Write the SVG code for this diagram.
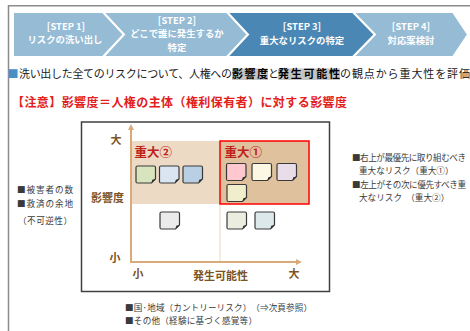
<svg xmlns="http://www.w3.org/2000/svg" xmlns:xlink="http://www.w3.org/1999/xlink" width="470" height="331" viewBox="0 0 470 331">
<style>
text{font-family:"Noto Sans CJK JP","Noto Sans",sans-serif;}
.step{fill:#95bbd5;stroke:#ffffff;stroke-width:2;}
.step.on{fill:#4a87b5;}
.st{font-size:9.4px;fill:#ffffff;font-weight:bold;text-anchor:middle;}
.ax{font-size:11px;fill:#7b5325;font-weight:bold;text-anchor:middle;}
.big{font-size:12.5px;fill:#c0201a;font-weight:bold;}
.note{stroke:#3a3a3a;stroke-width:1.2;}
.fold{fill:#2a2a2a;}
.side{font-size:8.6px;fill:#3a3a3a;}
.axis{stroke:#d8aa7c;stroke-width:2;fill:none;}
</style>
<defs>
<marker id="ah" markerUnits="userSpaceOnUse" markerWidth="8" markerHeight="8" refX="1" refY="4" orient="auto">
<path d="M0,1 L6,4 L0,7 Z" fill="#d8aa7c"/>
</marker>
<path id="nt" d="M1.5,0 H18 Q19.5,0 19.5,1.5 V13 L15.5,17 H1.5 Q0,17 0,15.5 V1.5 Q0,0 1.5,0 Z"/>
<path id="fd" d="M15.5,17 L19.5,13 L16.3,13.8 Z"/>
</defs>

<rect width="470" height="331" fill="#ffffff"/>
<g id="frame">
<path d="M8.5,331 V5.8 H470" fill="none" stroke="#8c8c8c" stroke-width="1.5"/>
</g>

<g id="step1">
<polygon class="step" points="13,12 103,12 124,34.5 103,57 13,57"/>
<text class="st" x="66" y="29.5">[STEP 1]</text>
<text class="st" x="65" y="42.5">リスクの洗い出し</text>
</g>
<g id="step2">
<polygon class="step" points="103,12 227,12 248,34.5 227,57 103,57 124,34.5"/>
<text class="st" x="177" y="24">[STEP 2]</text>
<text class="st" x="177" y="37">どこで誰に発生するか</text>
<text class="st" x="177" y="50.5">特定</text>
</g>
<g id="step3">
<polygon class="step on" points="227,12 353,12 375,34.5 353,57 227,57 248,34.5"/>
<text class="st" x="302" y="29.5">[STEP 3]</text>
<text class="st" x="302" y="43.5">重大なリスクの特定</text>
</g>
<g id="step4">
<polygon class="step" points="353,12 453,12 468,34.5 453,57 353,57 375,34.5"/>
<text class="st" x="411" y="29.5">[STEP 4]</text>
<text class="st" x="411" y="43.5">対応案検討</text>
</g>

<g id="lead">
<text x="7.5" y="78" font-size="11" fill="#4a8fc2">■</text>
<rect x="232" y="68.5" width="36" height="11.5" fill="#c4c4c4"/>
<rect x="278" y="68.5" width="62" height="11.5" fill="#c4c4c4"/>
<text x="19" y="78" font-size="11" fill="#1a1a1a" textLength="213">洗い出した全てのリスクについて、人権への</text>
<text x="232" y="78" font-size="11" fill="#000" font-weight="bold" textLength="36">影響度</text>
<text x="268" y="78" font-size="11" fill="#1a1a1a" textLength="10">と</text>
<text x="278" y="78" font-size="11" fill="#000" font-weight="bold" textLength="62">発生可能性</text>
<text x="340" y="78" font-size="11" fill="#1a1a1a" textLength="130">の観点から重大性を評価</text>
</g>
<g id="note-caution">
<text x="12" y="106.5" font-size="12" fill="#e3201b" font-weight="bold" textLength="335">【注意】影響度＝人権の主体（権利保有者）に対する影響度</text>
</g>

<g id="chart">
<rect x="81.5" y="122" width="248" height="169.5" fill="#ffffff" stroke="#404040" stroke-width="1.5"/>
<rect x="131" y="141" width="89" height="63" fill="#eddac4"/>
<line x1="220" y1="204" x2="220" y2="262" stroke="#e6cfb3" stroke-width="0.8"/>
</g>
<g id="zone1">
<rect x="220" y="141" width="89" height="63" fill="#dfc19e" stroke="#ff0000" stroke-width="1.5"/>
<text class="big" x="224.5" y="156.5">重大①</text>
</g>
<g id="zone2">
<text class="big" x="134.5" y="156.5">重大②</text>
</g>

<g id="axis-labels">
<text class="ax" x="116" y="144">大</text>
<text class="ax" x="107.5" y="202">影響度</text>
<text class="ax" x="115" y="262">小</text>
<text class="ax" x="138" y="277.5">小</text>
<text class="ax" x="220.5" y="280">発生可能性</text>
<text class="ax" x="294" y="278">大</text>
</g>

<g id="connectors">
<line class="axis" x1="131" y1="263" x2="131" y2="129" marker-end="url(#ah)"/>
<line class="axis" x1="130" y1="262" x2="297" y2="262" marker-end="url(#ah)"/>
</g>

<g id="notes">
<g id="n1" transform="translate(136,166)"><use xlink:href="#nt" class="note" fill="#d7e4bd"/><use xlink:href="#fd" class="fold"/></g>
<g id="n2" transform="translate(159.5,166)"><use xlink:href="#nt" class="note" fill="#dbe5f1"/><use xlink:href="#fd" class="fold"/></g>
<g id="n3" transform="translate(183,166)"><use xlink:href="#nt" class="note" fill="#b9cfe3"/><use xlink:href="#fd" class="fold"/></g>
<g id="n4" transform="translate(226.5,163.5)"><use xlink:href="#nt" class="note" fill="#ffc7ce"/><use xlink:href="#fd" class="fold"/></g>
<g id="n5" transform="translate(252,163.5)"><use xlink:href="#nt" class="note" fill="#fbf7e4"/><use xlink:href="#fd" class="fold"/></g>
<g id="n6" transform="translate(277,163.5)"><use xlink:href="#nt" class="note" fill="#e8dde9"/><use xlink:href="#fd" class="fold"/></g>
<g id="n7" transform="translate(227,184.5)"><use xlink:href="#nt" class="note" fill="#f1eecb"/><use xlink:href="#fd" class="fold"/></g>
<g id="n8" transform="translate(160,212)"><use xlink:href="#nt" class="note" fill="#ebebeb"/><use xlink:href="#fd" class="fold"/></g>
<g id="n9" transform="translate(227,212)"><use xlink:href="#nt" class="note" fill="#ebeedf"/><use xlink:href="#fd" class="fold"/></g>
<g id="n10" transform="translate(255,212)"><use xlink:href="#nt" class="note" fill="#dde8eb"/><use xlink:href="#fd" class="fold"/></g>
</g>

<g id="left-notes">
<text class="side" x="17" y="192.5" textLength="56">■被害者の数</text>
<text class="side" x="17" y="206.5" textLength="56">■救済の余地</text>
<text class="side" x="18" y="223.5" textLength="54">（不可逆性）</text>
</g>

<g id="right-notes">
<text class="side" x="352" y="160.5" font-size="8.2" textLength="114">■右上が最優先に取り組むべき</text>
<text class="side" x="359" y="173.5" font-size="8">重大なリスク（重大①）</text>
<text class="side" x="352" y="187.5" font-size="8.2" textLength="114">■左上がその次に優先すべき重</text>
<text class="side" x="359" y="200.5" font-size="8">大なリスク　（重大②）</text>
</g>

<g id="bottom-notes">
<text class="side" x="125" y="310.5" textLength="187">■国·地域（カントリーリスク）　（⇒次頁参照）</text>
<text class="side" x="125" y="323.5" textLength="132">■その他（経験に基づく感覚等）</text>
</g>
</svg>
